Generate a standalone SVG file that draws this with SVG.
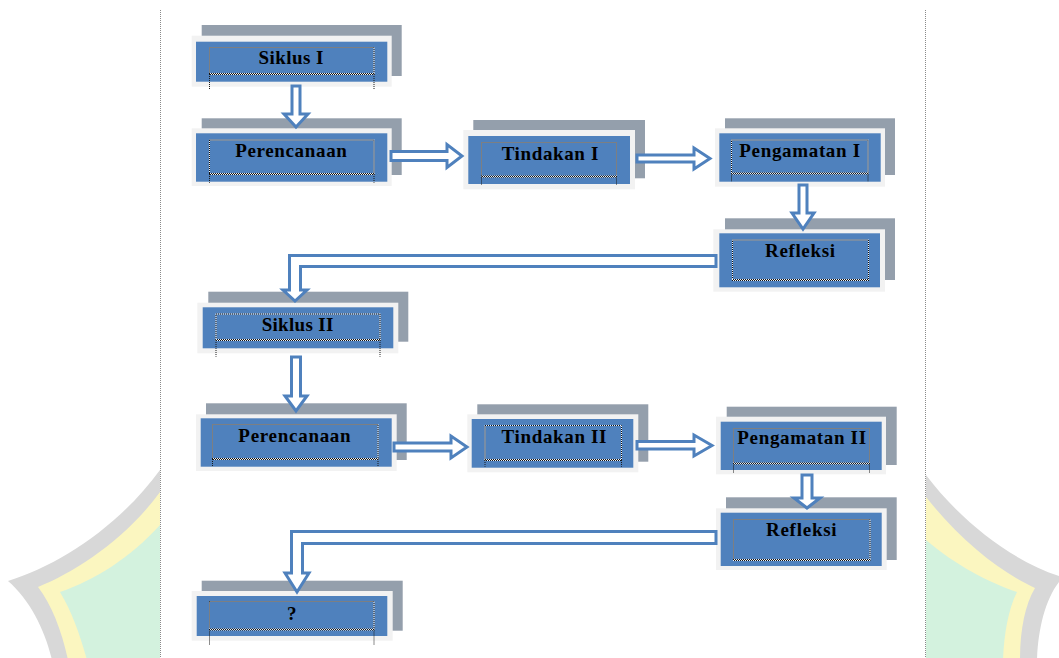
<svg xmlns="http://www.w3.org/2000/svg" width="1059" height="658" viewBox="0 0 1059 658">
<style>
.sh{fill:#949fac}
.bd{fill:#f2f2f2}
.bx{fill:#4f81bd}
.tb{fill:none;stroke:#111;stroke-width:1;stroke-dasharray:1 1;outline:none}
.tw{fill:none;stroke:#e8eef6;stroke-width:1}
.tl{fill:none;stroke:#1a1a1a;stroke-width:1;stroke-dasharray:1 1}
.lb{font-family:"Liberation Serif","Times New Roman",serif;font-weight:bold;font-size:19px;fill:#000;text-anchor:middle}
.ar{fill:#fff;stroke:#4f81bd;stroke-width:3;stroke-linejoin:miter}
.pg{stroke:#8a8a8a;stroke-width:1;stroke-dasharray:1 1;fill:none}
</style>
<defs>
<pattern id="dots" width="2" height="2" patternUnits="userSpaceOnUse">
<rect width="2" height="2" fill="#eef2f8"/>
<rect width="1" height="1" fill="#111"/>
<rect x="1" y="1" width="1" height="1" fill="#111"/>
</pattern>
</defs>
<rect width="1059" height="658" fill="#fff"/>
<g id="watermark">
<path d="M160 470 C120 525 60 565 8 581 C30 600 45 630 52 660 L160 660 Z" fill="#d8d8d8"/>
<path d="M160 492 C125 540 75 572 38 587 C52 605 62 632 68 660 L160 660 Z" fill="#fbf6c0"/>
<path d="M160 525 C130 558 95 580 60 592 C72 612 80 635 87 660 L160 660 Z" fill="#d3f2de"/>
<path d="M926 475 C960 520 1010 560 1059 576 L1059 582 C1045 600 1038 630 1037 660 L926 660 Z" fill="#d8d8d8"/>
<path d="M926 497 C960 540 1000 572 1035 588 C1025 605 1020 630 1020 660 L926 660 Z" fill="#fbf6c0"/>
<path d="M926 540 C955 565 990 583 1017 592 C1008 610 1004 635 1003 660 L926 660 Z" fill="#d3f2de"/>
</g>
<rect x="161" y="0" width="764" height="658" fill="#fff"/>
<path class="pg" d="M160.5 10 V658 M925.5 10 V658"/>

<g id="n-siklus1">
<rect class="sh" x="201.7" y="25" width="200" height="51"/>
<rect class="bd" x="191.7" y="35.7" width="200" height="51"/>
<rect class="bx" x="196" y="41.7" width="191.3" height="40"/>
<rect class="tw" x="209.5" y="47.5" width="164.5" height="26.5"/>
<rect class="tb" x="209.5" y="47.5" width="164.5" height="26.5"/>
<rect x="209" y="73" width="165.5" height="2" fill="url(#dots)"/>
<path class="tl" d="M209.5 74 V90 M374 74 V90"/>
<text class="lb" x="291" y="64.3" textLength="65">Siklus I</text>
</g>

<g id="n-perencanaan1">
<rect class="sh" x="201.7" y="118.3" width="200" height="56.7"/>
<rect class="bd" x="191.7" y="128.3" width="200" height="57.7"/>
<rect class="bx" x="196" y="133.3" width="191.3" height="48.4"/>
<rect class="tw" x="209.5" y="140" width="164.5" height="34"/>
<rect class="tb" x="209.5" y="140" width="164.5" height="34"/>
<rect x="209" y="173" width="165.5" height="2" fill="url(#dots)"/>
<path class="tl" d="M209.5 174 V182.7 M374 174 V182.7"/>
<text class="lb" x="291" y="156.7" textLength="111.7">Perencanaan</text>
</g>

<g id="n-tindakan1">
<rect class="sh" x="473.3" y="120" width="171.7" height="58.3"/>
<rect class="bd" x="463.3" y="130" width="171.7" height="59.3"/>
<rect class="bx" x="468.3" y="136" width="161.7" height="48"/>
<rect class="tw" x="481.5" y="142.5" width="135" height="34"/>
<rect class="tb" x="481.5" y="142.5" width="135" height="34"/>
<rect x="481" y="175.5" width="136" height="2" fill="url(#dots)"/>
<path class="tl" d="M481.5 176.5 V185 M616.5 176.5 V185"/>
<text class="lb" x="550" y="160" textLength="96.7">Tindakan I</text>
</g>

<g id="n-pengamatan1">
<rect class="sh" x="725" y="118.3" width="170" height="56.7"/>
<rect class="bd" x="715" y="128.3" width="170" height="58.4"/>
<rect class="bx" x="719.3" y="133.3" width="161.4" height="48.4"/>
<rect class="tw" x="731.5" y="140" width="136.5" height="33.5"/>
<rect class="tb" x="731.5" y="140" width="136.5" height="33.5"/>
<rect x="731" y="172.5" width="137.5" height="2" fill="url(#dots)"/>
<path class="tl" d="M731.5 173.5 V181.7 M868 173.5 V181.7"/>
<text class="lb" x="799.7" y="156.7" textLength="120.7">Pengamatan I</text>
</g>

<g id="n-refleksi1">
<rect class="sh" x="725" y="218.3" width="170" height="61.7"/>
<rect class="bd" x="713.3" y="229.3" width="171.7" height="62.4"/>
<rect class="bx" x="719.3" y="233.3" width="160.7" height="54"/>
<rect class="tw" x="732.5" y="240" width="136" height="40"/>
<rect class="tb" x="732.5" y="240" width="136" height="40"/>
<rect x="732" y="279" width="137" height="2" fill="url(#dots)"/>
<text class="lb" x="800" y="257.3" textLength="70">Refleksi</text>
</g>

<g id="n-siklus2">
<rect class="sh" x="208.3" y="291.7" width="200" height="50"/>
<rect class="bd" x="197.3" y="302.7" width="201" height="50.6"/>
<rect class="bx" x="202.7" y="307.3" width="190.6" height="41"/>
<rect class="tw" x="216" y="314" width="164" height="26"/>
<rect class="tb" x="216" y="314" width="164" height="26"/>
<rect x="215.5" y="339" width="165" height="2" fill="url(#dots)"/>
<path class="tl" d="M216 340 V356.7 M380 340 V356.7"/>
<text class="lb" x="297.5" y="331" textLength="71.7">Siklus II</text>
</g>

<g id="n-perencanaan2">
<rect class="sh" x="206" y="403.3" width="200.7" height="56.7"/>
<rect class="bd" x="196" y="414.3" width="200.7" height="56.7"/>
<rect class="bx" x="200.7" y="418.3" width="191" height="48.4"/>
<rect class="tw" x="212.5" y="424.5" width="165.5" height="34.5"/>
<rect class="tb" x="212.5" y="424.5" width="165.5" height="34.5"/>
<rect x="212" y="458" width="166.5" height="2" fill="url(#dots)"/>
<path class="tl" d="M212.5 459 V466.7 M378 459 V466.7"/>
<text class="lb" x="294.5" y="441.7" textLength="112.3">Perencanaan</text>
</g>

<g id="n-tindakan2">
<rect class="sh" x="477.3" y="404.3" width="171" height="57.4"/>
<rect class="bd" x="467.3" y="414.3" width="171" height="58"/>
<rect class="bx" x="471.7" y="419" width="161.6" height="48.7"/>
<rect class="tw" x="485" y="425.5" width="136.5" height="34.5"/>
<rect class="tb" x="485" y="425.5" width="136.5" height="34.5"/>
<rect x="484.5" y="459" width="137.5" height="2" fill="url(#dots)"/>
<path class="tl" d="M485 460 V466.7 M621.5 460 V466.7"/>
<text class="lb" x="554" y="442.7" textLength="105">Tindakan II</text>
</g>

<g id="n-pengamatan2">
<rect class="sh" x="726.7" y="406.7" width="170" height="58.3"/>
<rect class="bd" x="716" y="416.7" width="170" height="57.6"/>
<rect class="bx" x="720.7" y="421.7" width="161" height="48.3"/>
<rect class="tw" x="733.5" y="428.5" width="136" height="35"/>
<rect class="tb" x="733.5" y="428.5" width="136" height="35"/>
<rect x="733" y="462.5" width="137" height="2" fill="url(#dots)"/>
<path class="tl" d="M733.5 463.5 V473.3 M869.5 463.5 V473.3"/>
<text class="lb" x="801.7" y="444.3" textLength="128.7">Pengamatan II</text>
</g>

<g id="n-refleksi2">
<rect class="sh" x="726" y="497.3" width="170.7" height="62.7"/>
<rect class="bd" x="716" y="508.3" width="170.7" height="61.7"/>
<rect class="bx" x="720.7" y="512.7" width="161" height="53.3"/>
<rect class="tw" x="733.5" y="519.5" width="136.5" height="40.5"/>
<rect class="tb" x="733.5" y="519.5" width="136.5" height="40.5"/>
<rect x="733" y="559" width="137.5" height="2" fill="url(#dots)"/>
<text class="lb" x="801.3" y="536" textLength="70.7">Refleksi</text>
</g>

<g id="n-q">
<rect class="sh" x="201.7" y="580.7" width="201" height="50"/>
<rect class="bd" x="191.7" y="591" width="201" height="49.7"/>
<rect class="bx" x="196.7" y="596" width="190.6" height="40"/>
<rect class="tw" x="209.5" y="601.5" width="164.5" height="28"/>
<rect class="tb" x="209.5" y="601.5" width="164.5" height="28"/>
<rect x="209" y="628.5" width="165.5" height="2" fill="url(#dots)"/>
<path class="tl" d="M209.5 629.5 V645 M374 629.5 V645"/>
<text class="lb" x="291.7" y="620">?</text>
</g>

<g id="connectors">
<polygon class="ar" points="292,86 300,86 300,114 308,114 296,127 284,114 292,114"/>
<polygon class="ar" points="391,151.5 447,151.5 447,144.5 462,156 447,167.5 447,160.5 391,160.5"/>
<polygon class="ar" points="637,155 694,155 694,148 710,158.5 694,169 694,162 637,162"/>
<polygon class="ar" points="799,185 807,185 807,213 814,213 803,229 792,213 799,213"/>
<polygon class="ar" points="716,255.5 289.5,255.5 289.5,290 283,290 295,301 307,290 300.5,290 300.5,266.5 716,266.5"/>
<polygon class="ar" points="291.5,357 300.5,357 300.5,396 307,396 296,411 285,396 291.5,396"/>
<polygon class="ar" points="394,443 451,443 451,436 467,447 451,458 451,451 394,451"/>
<polygon class="ar" points="637,441.5 694,441.5 694,435 712,445.5 694,456 694,449 637,449"/>
<polygon class="ar" points="802,475 812,475 812,498 820,498 807,508 794,498 802,498"/>
<polygon class="ar" points="716,531.5 291.5,531.5 291.5,573 285,573 297,592 309,573 302.5,573 302.5,543.5 716,543.5"/>
</g>
</svg>
